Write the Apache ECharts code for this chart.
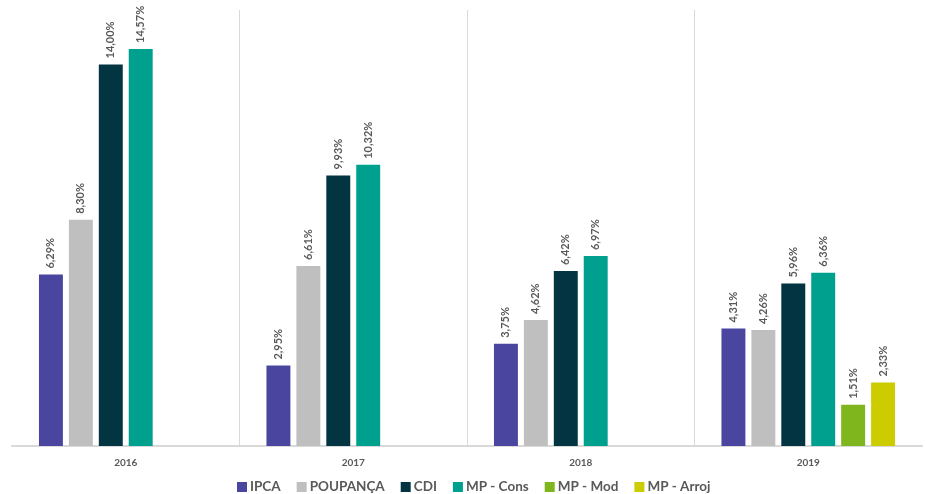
<!DOCTYPE html>
<html><head><meta charset="utf-8">
<script src="https://cdn.jsdelivr.net/npm/echarts@6/dist/echarts.min.js"></script>
<style>html,body{margin:0;padding:0;background:#fff}#c{width:925px;height:494px}</style>
</head><body><div id="c"></div>
<script>
const categories = ['2016', '2017', '2018', '2019'];
const seriesNames = ['IPCA', 'POUPANÇA', 'CDI', 'MP - Cons', 'MP - Mod', 'MP - Arroj'];
const ipca = [6.29, 2.95, 3.75, 4.31];
const poupanca = [8.30, 6.61, 4.62, 4.26];
const cdi = [14.00, 9.93, 6.42, 5.96];
const mpCons = [14.57, 10.32, 6.97, 6.36];
const mpMod = [null, null, null, 1.51];
const mpArroj = [null, null, null, 2.33];
const colors = ['#4a46a0', '#bfbfbf', '#023541', '#00a08e', '#7fb51d', '#cccc00'];
const values = [ipca, poupanca, cdi, mpCons, mpMod, mpArroj];

const font = 'Lato, "Open Sans", sans-serif';
const chart = echarts.init(document.getElementById('c'));
chart.setOption({
  animation: false,
  color: colors,
  grid: { left: 12, right: 3, top: 10, bottom: 48 },
  legend: {
    top: 475, left: 232,
    itemWidth: 10, itemHeight: 10, itemGap: 16,
    icon: 'rect',
    textStyle: { fontFamily: font, fontSize: 13.5, fontWeight: 'bold', color: '#595959', padding: [0, 0, 0, -2] },
    data: seriesNames
  },
  xAxis: {
    type: 'category', data: categories,
    axisLine: { lineStyle: { color: '#d9d9d9', width: 2 } },
    axisTick: { show: false },
    axisLabel: { fontFamily: font, fontSize: 10, fontWeight: 'bold', color: '#595959', margin: 12 },
    splitLine: { show: true, showMinLine: false, showMaxLine: false, lineStyle: { color: '#d9d9d9', width: 1 } }
  },
  yAxis: { type: 'value', min: 0, max: 16, show: false, splitLine: { show: false } },
  series: seriesNames.map((n, i) => ({
    name: n, type: 'bar', data: values[i],
    barGap: '25%', barCategoryGap: '23.7%',
    label: {
      show: true, position: 'top', rotate: 90, align: 'left', verticalAlign: 'middle', distance: 6,
      fontFamily: font, fontSize: 11, fontWeight: 'bold', color: '#595959',
      formatter: p => p.value == null ? '' : p.value.toFixed(2).replace('.', ',') + '%'
    }
  }))
});
</script></body></html>
